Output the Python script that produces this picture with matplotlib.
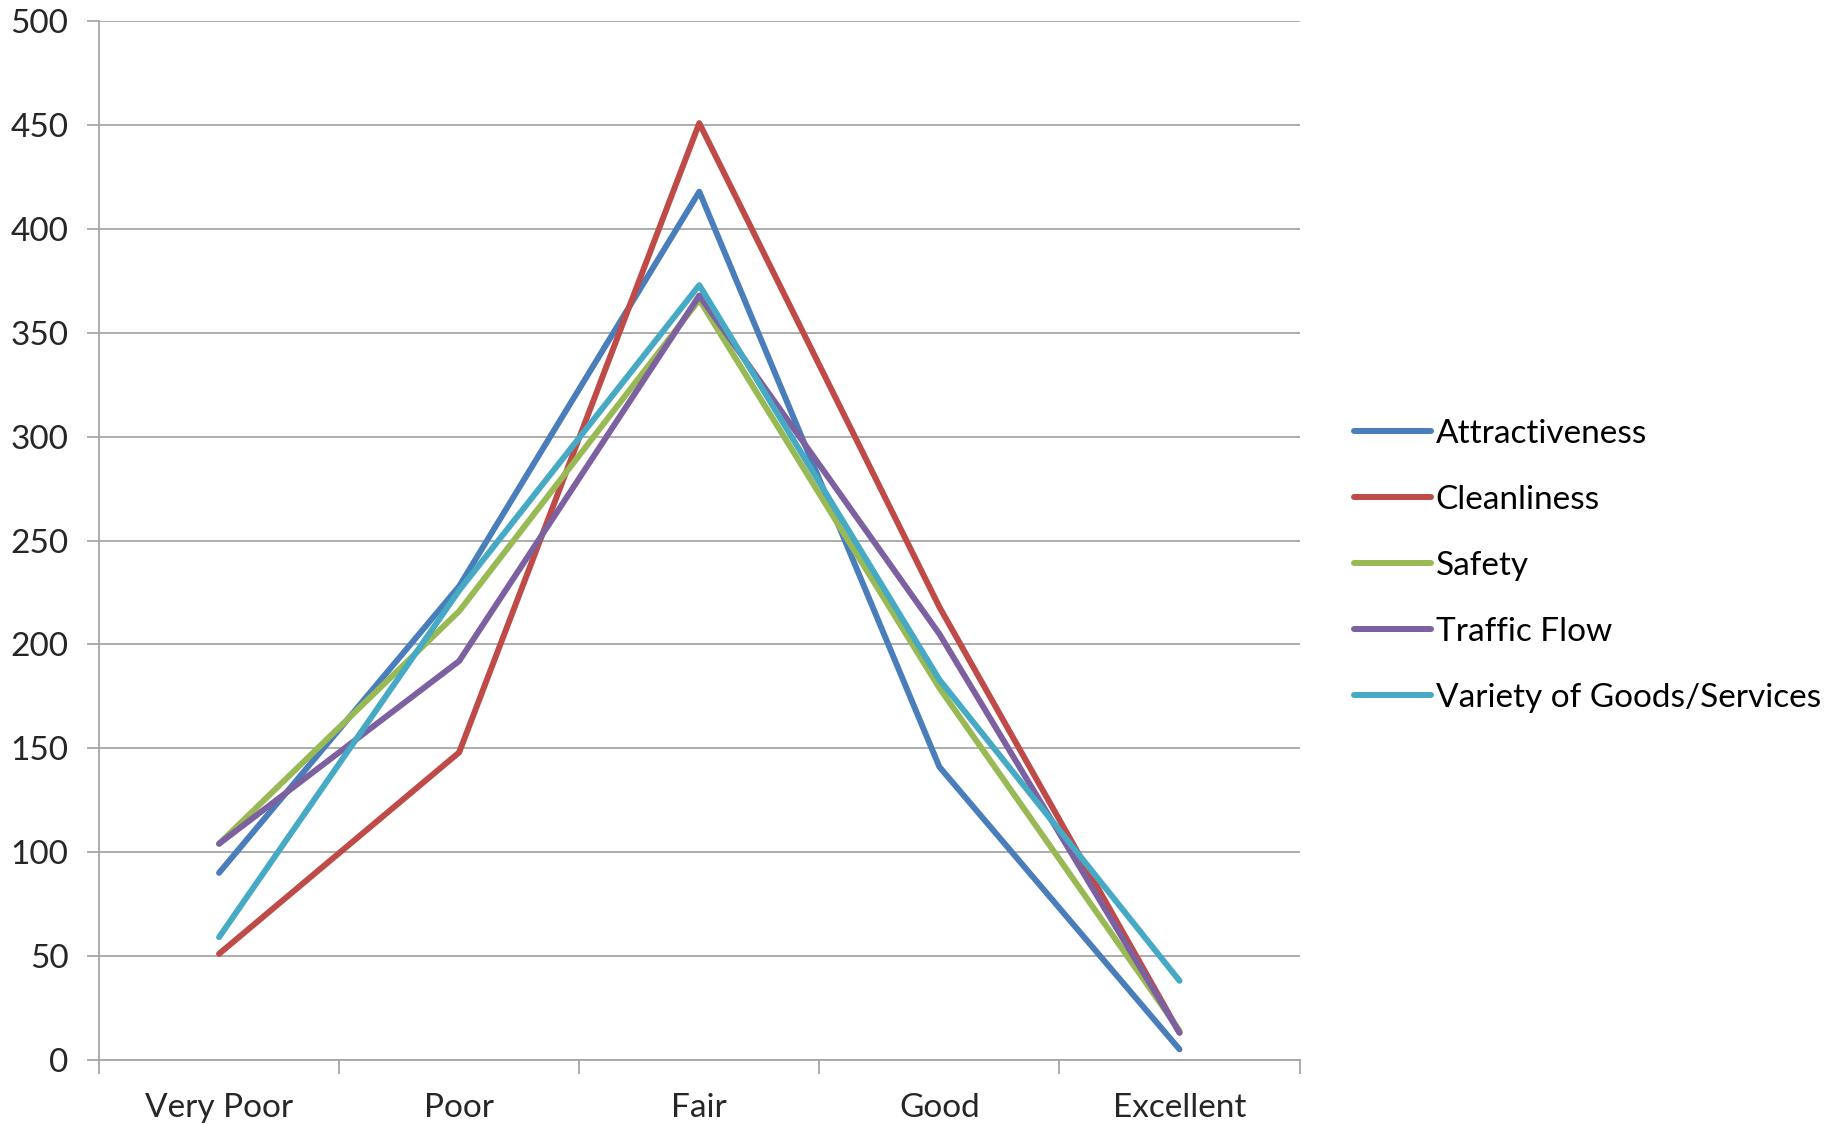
import matplotlib.pyplot as plt
import numpy as np

plt.rcParams['font.family'] = ['Lato', 'DejaVu Sans']

categories = ['Very Poor', 'Poor', 'Fair', 'Good', 'Excellent']
attractiveness = [90, 228, 418, 141, 5]
cleanliness = [51, 148, 451, 218, 13]
safety = [104, 216, 366, 179, 14]
traffic_flow = [104, 192, 368, 205, 13]
variety = [59, 226, 373, 183, 38]

series = [
    ('Attractiveness', attractiveness, '#4A7EBB'),
    ('Cleanliness', cleanliness, '#BE4B48'),
    ('Safety', safety, '#98B954'),
    ('Traffic Flow', traffic_flow, '#7D60A0'),
    ('Variety of Goods/Services', variety, '#46AAC5'),
]

fig = plt.figure(figsize=(18.33, 11.25), dpi=100)
ax = fig.add_axes([0.054, 0.058, 0.655, 0.923])

x = np.arange(len(categories))
for name, vals, col in series:
    ax.plot(x, vals, color=col, lw=4.3, label=name,
            solid_capstyle='round', solid_joinstyle='round')

grid_col = '#A6A6A6'
ax.set_xlim(-0.5, len(categories) - 0.5)
ax.set_ylim(0, 500)
ax.set_yticks(np.arange(0, 501, 50))
ax.set_xticks(x)
ax.set_xticklabels(categories)
ax.set_xticks(np.arange(-0.5, len(categories), 1), minor=True)
ax.yaxis.grid(True, color=grid_col, lw=1.3)
ax.set_axisbelow(True)

for s in ['top', 'right']:
    ax.spines[s].set_visible(False)
for s in ['left', 'bottom']:
    ax.spines[s].set_color(grid_col)
    ax.spines[s].set_linewidth(1.3)

ax.tick_params(axis='y', length=9, width=1.3, color=grid_col, pad=13,
               labelsize=24, labelcolor='#262626')
ax.tick_params(axis='x', which='major', length=0, pad=24,
               labelsize=24, labelcolor='#262626')
ax.tick_params(axis='x', which='minor', length=10, width=1.3, color=grid_col)

fig.legend(loc='center left', bbox_to_anchor=(0.7387, 0.497), frameon=False,
           fontsize=24, handlelength=2.3, handletextpad=0.15,
           labelspacing=1.08, borderpad=0, borderaxespad=0)

fig.savefig('out.png', dpi=100)
